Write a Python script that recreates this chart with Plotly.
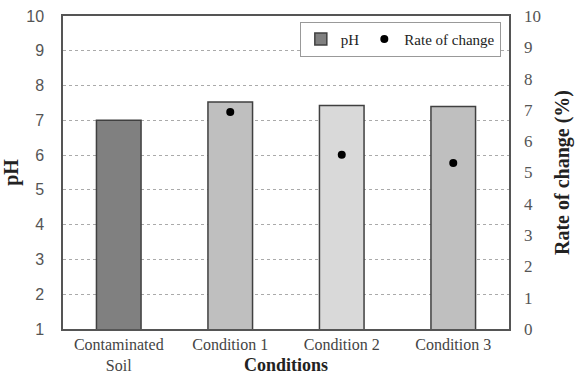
import plotly.graph_objects as go

categories = ["Contaminated<br>Soil", "Condition 1", "Condition 2", "Condition 3"]
ph_values = [7.0, 7.53, 7.43, 7.4]
rate_cats = ["Condition 1", "Condition 2", "Condition 3"]
rate_values = [6.93, 5.57, 5.3]
bar_colors = ["#808080", "#bfbfbf", "#d9d9d9", "#bfbfbf"]

serif = "Liberation Serif, Times New Roman, serif"

fig = go.Figure()
fig.add_trace(go.Bar(
    x=categories, y=ph_values, name="pH",
    marker=dict(color=bar_colors, line=dict(color="#404040", width=1.5)),
    width=0.4, yaxis="y",
))
fig.add_trace(go.Scatter(
    x=rate_cats, y=rate_values, name="Rate of change", mode="markers",
    marker=dict(color="black", size=8), yaxis="y2",
))

fig.update_layout(
    width=578, height=376,
    margin=dict(l=63, r=69, t=16, b=47),
    paper_bgcolor="white", plot_bgcolor="white",
    showlegend=True,
    legend=dict(orientation="h", x=0.531, y=0.982, xanchor="left", yanchor="top",
                bordercolor="#999999", borderwidth=1, bgcolor="white",
                font=dict(family=serif, size=15, color="#222"),
                itemwidth=30, tracegroupgap=0),
    xaxis=dict(showline=True, linecolor="#555", linewidth=1.5, mirror=True, automargin=False,
               tickfont=dict(family=serif, size=16, color="#444"),
               ticks="", range=[-0.5, 3.5], ticklabelstandoff=0),
    yaxis=dict(range=[1, 10], dtick=1, showline=True, linecolor="#555", linewidth=1.5,
               mirror=True, showgrid=True, gridcolor="#aaaaaa", griddash="dot", gridwidth=1,
               automargin=False,
               tickfont=dict(family="Liberation Sans, Arial, sans-serif", size=16, color="#555"),
               ticks="", ticklabelstandoff=14,
               title=dict(text="<b>pH</b>", font=dict(family=serif, size=20, color="#222"),
                          standoff=12)),
    yaxis2=dict(range=[0, 10], dtick=1, overlaying="y", side="right", showgrid=False,
                automargin=False,
                tickfont=dict(family=serif, size=17, color="#555"), ticks="",
                ticklabelstandoff=14,
                title=dict(text="<b>Rate of change (%)</b>",
                           font=dict(family=serif, size=20, color="#222"), standoff=14)),
    annotations=[dict(text="<b>Conditions</b>", xref="paper", yref="paper",
                      x=0.5, y=-0.115, xanchor="center", yanchor="middle", showarrow=False,
                      font=dict(family=serif, size=18, color="#222"))],
)

fig.write_html("out.html")
